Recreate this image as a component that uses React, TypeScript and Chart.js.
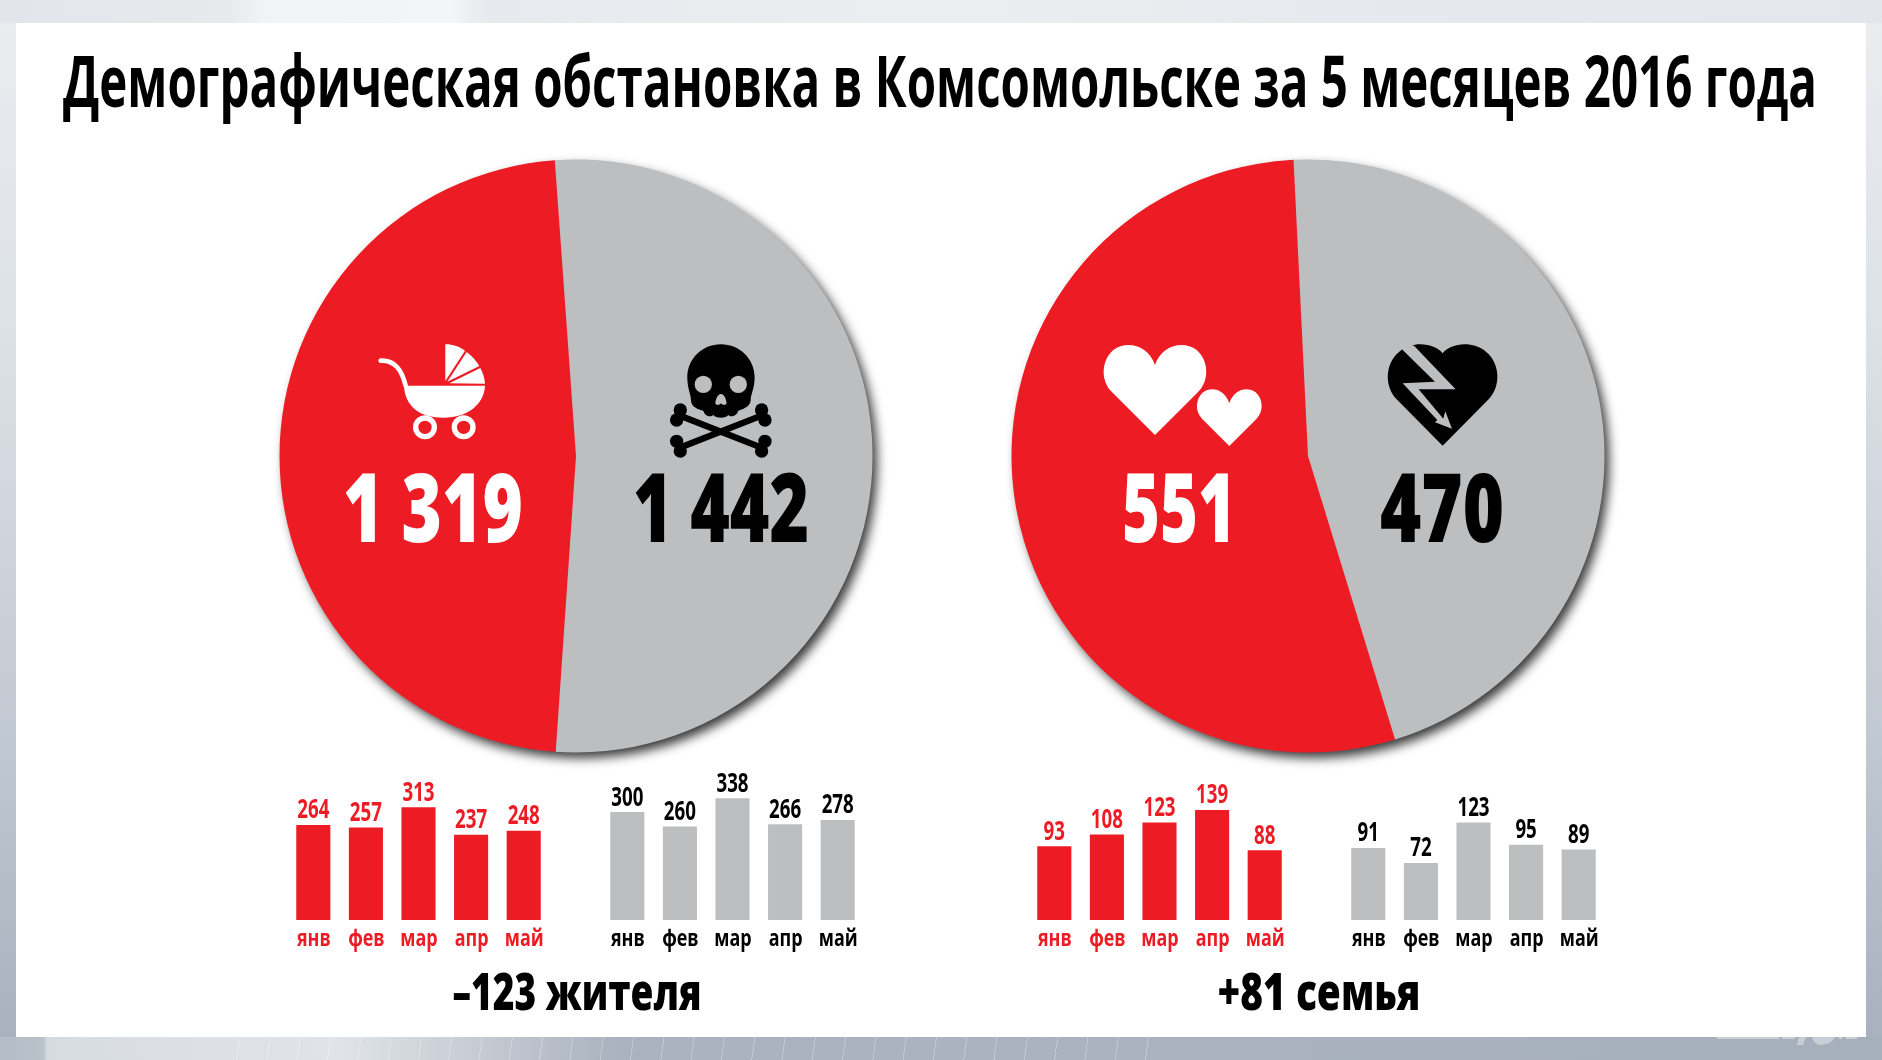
import React, { useEffect, useRef } from "react";
import { Chart, registerables } from "chart.js";

Chart.register(...registerables);

const FONT = '"Open Sans", "Noto Sans", sans-serif';
const RED = "#ed1c24";
const GRAY = "#bcbec0";

const titleText = "Демографическая обстановка в Комсомольске за 5 месяцев 2016 года";
const months = ["янв", "фев", "мар", "апр", "май"];
const births = [264, 257, 313, 237, 248];
const deaths = [300, 260, 338, 266, 278];
const marriages = [93, 108, 123, 139, 88];
const divorces = [91, 72, 123, 95, 89];
const birthsTotal = 1319;
const deathsTotal = 1442;
const marriagesTotal = 551;
const divorcesTotal = 470;
const residentsNote = "–123 жителя";
const familiesNote = "+81 семья";

const fmt = (n: number) => (n >= 1000 ? `${Math.floor(n / 1000)} ${String(n % 1000).padStart(3, "0")}` : String(n));

const pieShadow = {
  id: "pieShadow",
  beforeDatasetsDraw(chart: any) {
    const arc = chart.getDatasetMeta(0).data[0];
    const { ctx } = chart;
    ctx.save();
    ctx.shadowColor = "rgba(0,0,0,0.78)";
    ctx.shadowBlur = 11;
    ctx.shadowOffsetX = 5;
    ctx.shadowOffsetY = 6;
    ctx.fillStyle = GRAY;
    ctx.beginPath();
    ctx.arc(arc.x, arc.y, arc.outerRadius - 0.5, 0, Math.PI * 2);
    ctx.fill();
    ctx.restore();
  },
};

const barText = {
  id: "barText",
  afterDatasetsDraw(chart: any) {
    const { ctx } = chart;
    const ds = chart.data.datasets[0];
    const xs = chart.scales.x;
    const draw = (text: string, x: number, y: number, size: number, sx: number) => {
      ctx.save();
      ctx.translate(x, y);
      ctx.scale(sx, 1);
      ctx.font = `700 ${size}px ${FONT}`;
      ctx.textAlign = "center";
      ctx.textBaseline = "alphabetic";
      ctx.fillStyle = ds.valueColor;
      ctx.fillText(text, 0, 0);
      ctx.restore();
    };
    chart.getDatasetMeta(0).data.forEach((bar: any, i: number) => {
      draw(String(ds.data[i]), bar.x, bar.y - 6.5, 26, 0.72);
      draw(xs.getLabelForValue(i), xs.getPixelForTick(i) + 0.5, xs.bottom - 14, 23, 0.78);
    });
  },
};

function pieConfig(values: number[], rotation: number) {
  return {
    type: "pie",
    data: {
      labels: ["Серый", "Красный"],
      datasets: [{ data: values, backgroundColor: [GRAY, RED], borderWidth: 0 }],
    },
    options: {
      responsive: false,
      animation: false,
      rotation,
      layout: { padding: 23.5 },
      plugins: { legend: { display: false }, tooltip: { enabled: false } },
    },
    plugins: [pieShadow],
  };
}

function barConfig(values: number[], color: string, textColor: string, yMax: number) {
  return {
    type: "bar",
    data: {
      labels: months,
      datasets: [
        {
          data: values,
          backgroundColor: color,
          borderWidth: 0,
          barPercentage: 0.648,
          categoryPercentage: 1,
          valueColor: textColor,
        },
      ],
    },
    options: {
      responsive: false,
      animation: false,
      layout: { padding: 0 },
      plugins: { legend: { display: false }, tooltip: { enabled: false } },
      scales: {
        x: {
          grid: { display: false, drawTicks: false },
          border: { display: false },
          afterFit(s: any) {
            s.height = 40;
          },
          ticks: { display: false },
        },
        y: { display: false, min: 0, max: yMax },
      },
    },
    plugins: [barText],
  };
}

const abs = (left: number, top: number): React.CSSProperties => ({ position: "absolute", left, top });
const PITCH = 52.55;
const BAR_W = Math.round(PITCH * 5);

function Canvas({ cfg, left, top, w, h }: any) {
  const ref = useRef<HTMLCanvasElement>(null);
  useEffect(() => {
    const chart = new Chart(ref.current as any, cfg());
    return () => chart.destroy();
  }, []);
  return <canvas ref={ref} width={w} height={h} style={{ ...abs(left, top), width: w, height: h }} />;
}

function Txt({ x, y, w, size, weight = "800", fill = "#000", children }: any) {
  return (
    <text x={x} y={y} textLength={w} lengthAdjust="spacingAndGlyphs" fontFamily={FONT} fontWeight={weight} fontSize={size} fill={fill}>
      {children}
    </text>
  );
}

export default function App() {
  return (
    <div style={{ ...abs(0, 0), width: 1882, height: 1060, overflow: "hidden", background: "linear-gradient(180deg,#eaedf0 0%,#dde2e7 30%,#c0c8d1 70%,#a6afbc 100%)" }}>
      <div
        style={{
          ...abs(0, 0),
          width: 1882,
          height: 23,
          background: "linear-gradient(90deg,#e2e6eb 0,#e6eaed 12%,#f1f3f5 14%,#f3f5f6 24%,#e6eaee 26%,#ebeef1 50%,#e6eaee 70%,#e3e7eb 100%)",
        }}
      />
      <div
        style={{
          ...abs(0, 1037),
          width: 1882,
          height: 23,
          background:
            "repeating-linear-gradient(98deg,transparent 0 29px,rgba(255,255,255,.28) 29px 30px) 210px 0/950px 100% no-repeat,linear-gradient(90deg,#b4bdc7 0,#b9c1ca 2.3%,#d6dbe0 2.5%,#dde1e5 11%,#e0e4e8 18%,#a9b2be 33%,#aab3bf 50%,#a6afbc 100%)",
        }}
      />
      <div style={{ ...abs(16, 23), width: 1850, height: 1014, background: "#fff" }} />

      <Canvas left={256} top={136} w={640} h={640} cfg={() => pieConfig([deathsTotal, birthsTotal], -4.1)} />
      <Canvas left={988} top={136} w={640} h={640} cfg={() => pieConfig([divorcesTotal, marriagesTotal], -2.8)} />

      <Canvas left={287} top={760} w={BAR_W} h={200} cfg={() => barConfig(births, RED, RED, 160 / 0.36)} />
      <Canvas left={601} top={760} w={BAR_W} h={200} cfg={() => barConfig(deaths, GRAY, "#000", 160 / 0.36)} />
      <Canvas left={1028} top={760} w={BAR_W} h={200} cfg={() => barConfig(marriages, RED, RED, 160 / 0.792)} />
      <Canvas left={1342} top={760} w={BAR_W} h={200} cfg={() => barConfig(divorces, GRAY, "#000", 160 / 0.792)} />

      <svg width={1882} height={1060} style={{ ...abs(0, 0), pointerEvents: "none" }}>
        <Txt x={63} y={107} w={1754} size={72} weight="700">{titleText}</Txt>
        <Txt x={343} y={542} w={180} size={95} fill="#fff">{fmt(birthsTotal)}</Txt>
        <Txt x={633} y={542} w={176} size={95}>{fmt(deathsTotal)}</Txt>
        <Txt x={1122} y={542} w={114} size={95} fill="#fff">{fmt(marriagesTotal)}</Txt>
        <Txt x={1380} y={542} w={124} size={95}>{fmt(divorcesTotal)}</Txt>
        <Txt x={452.5} y={1010} w={249} size={52}>{residentsNote}</Txt>
        <Txt x={1217.5} y={1010} w={203} size={52}>{familiesNote}</Txt>

        {/* коляска */}
        <g transform="translate(340,320) scale(0.3333)" fill="#fff">
          <path d="M122,122 C165,120 185,150 197,197" fill="none" stroke="#fff" strokeWidth="14" strokeLinecap="round" />
          <path d="M192,197 L435,197 C433,250 385,293 310,293 C240,293 195,260 192,197 Z" />
          <path d="M316,183 L316,73 C340,73 358,80 375,92 Z" />
          <path d="M322,185 L380,96 C395,107 408,122 418,138 Z" />
          <path d="M328,190 L421,144 C429,158 434,175 435,191 Z" />
          <circle cx="255" cy="322" r="28" fill="none" stroke="#fff" strokeWidth="16" />
          <circle cx="371" cy="322" r="28" fill="none" stroke="#fff" strokeWidth="16" />
        </g>

        {/* череп */}
        <g transform="translate(340,320) scale(0.3333)" fill="#000">
          <path d="M1015,285 L1270,385 M1015,385 L1270,285" stroke="#000" strokeWidth="19" />
          <circle cx="1021" cy="270" r="20" /><circle cx="1010" cy="300" r="20" />
          <circle cx="1265" cy="270" r="20" /><circle cx="1275" cy="300" r="20" />
          <circle cx="1010" cy="364" r="20" /><circle cx="1021" cy="393" r="20" />
          <circle cx="1275" cy="364" r="20" /><circle cx="1265" cy="393" r="20" />
          <path d="M1143,73 C1200,73 1244,118 1244,172 C1244,205 1232,225 1232,240 C1232,262 1205,268 1195,272 C1190,290 1170,292 1165,285 C1158,296 1128,296 1120,285 C1112,292 1095,290 1090,272 C1075,268 1053,262 1053,240 C1053,225 1042,205 1042,172 C1042,118 1086,73 1143,73 Z" />
          <circle cx="1090" cy="193" r="26" fill={GRAY} />
          <circle cx="1195" cy="193" r="26" fill={GRAY} />
          <path d="M1143,222 C1155,222 1160,245 1160,250 C1155,258 1148,255 1143,250 C1138,255 1130,258 1126,250 C1126,245 1131,222 1143,222 Z" fill={GRAY} />
        </g>

        {/* сердца */}
        <g transform="translate(1080,320) scale(0.3333)" fill="#fff">
          <path d="M225,345 L95,215 C60,180 65,120 100,90 C140,60 205,75 225,135 C245,75 310,60 350,90 C385,120 390,180 355,215 Z" />
          <path d="M448,378 L366,296 C344,274 347,236 369,217 C394,198 435,208 448,250 C461,208 502,198 527,217 C549,236 552,274 530,296 Z" />
        </g>

        {/* разбитое сердце */}
        <g transform="translate(1080,320) scale(0.3333)">
          <path d="M1088,377 L950,238 C912,198 915,130 958,95 C1000,60 1065,70 1088,100 C1111,70 1176,60 1218,95 C1261,130 1264,198 1226,238 Z" fill="#000" />
          <path d="M966,88 L1065,185 L968,190 L1072,300 L1065,307 L1116,326 L1096,274 L1090,296 L1016,208 L1127,208 L1003,78 L985,70 Z" fill={GRAY} />
        </g>

        {/* обрезанный логотип */}
        <g fill="#e4e7ea" opacity="0.55">
          <rect x="1717" y="1037" width="62" height="2" />
          <rect x="1782" y="1037" width="13" height="2" />
          <path d="M1799,1037 L1806,1037 L1803,1045 L1797,1045 Z" />
          <path d="M1812,1037 L1835,1037 C1832,1043 1826,1045 1820,1045 C1816,1045 1813,1041 1812,1037 Z" />
          <rect x="1839" y="1037" width="3" height="2" />
          <rect x="1846" y="1037" width="11" height="2" />
        </g>
      </svg>
    </div>
  );
}
